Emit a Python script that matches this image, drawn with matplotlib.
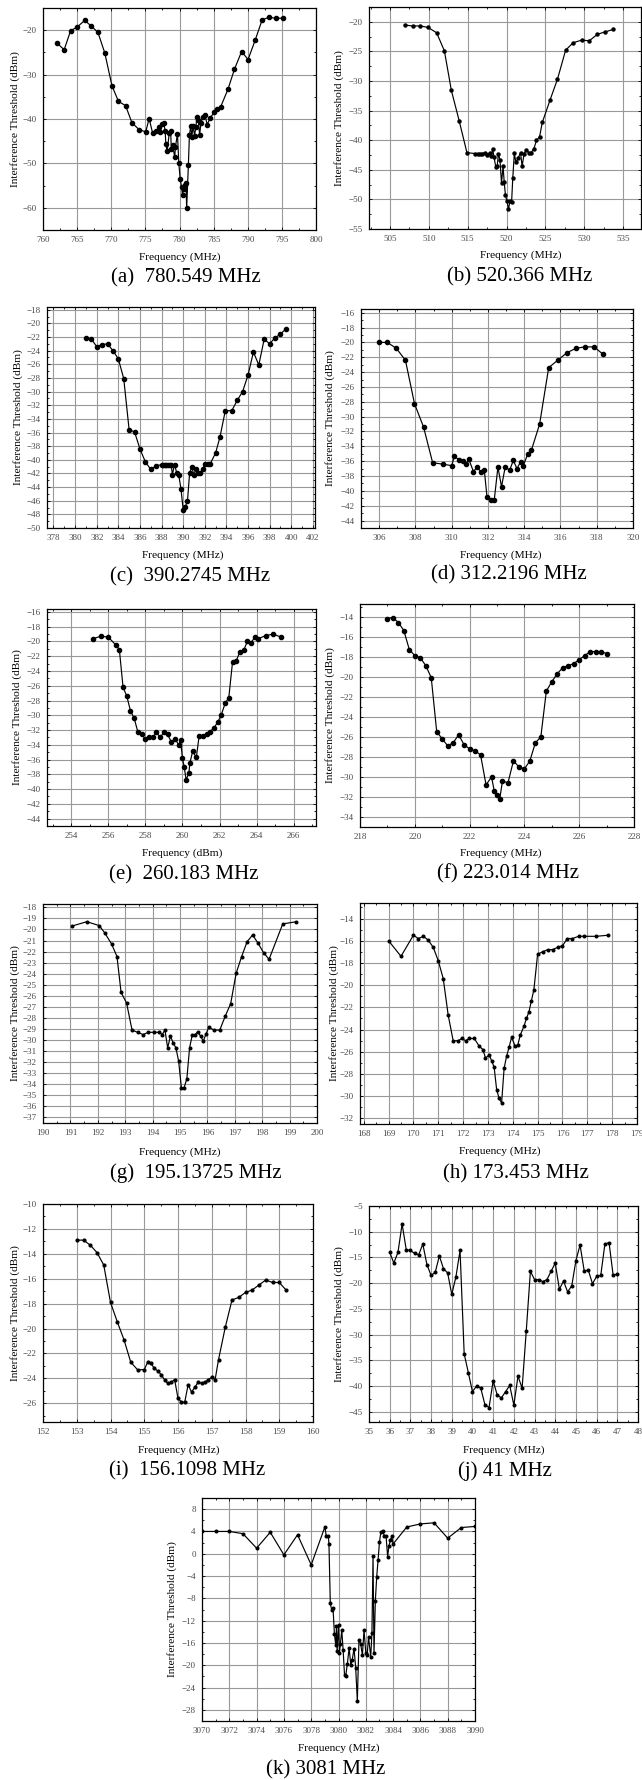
import matplotlib
matplotlib.use("Agg")
import matplotlib.pyplot as plt
from matplotlib.ticker import MultipleLocator

# ---- data ----
a_freq = [762.05, 763.1, 764.05, 765.0, 766.1, 767.1, 768.05, 769.05, 770.1, 771.05, 772.1, 773.05, 774.1, 775.05,
          775.55, 776.05, 776.6, 777.0, 777.2, 777.4, 777.7, 777.9, 778.0, 778.2,
          778.5, 778.7, 778.8, 779.0, 779.3, 779.4, 779.7, 779.9, 780.1, 780.3,
          780.45, 780.6, 780.8, 780.95, 781.05, 781.3, 781.45, 781.65, 781.8, 782.0,
          782.2, 782.4, 782.55, 782.75, 782.95, 783.15, 783.4, 783.75, 784.05, 784.5,
          785.1, 785.5, 786.05, 787.1, 788.05, 789.1, 790.05, 791.1, 792.1, 793.05, 794.1, 795.1]
a_thr = [-22.9, -24.4, -20.1, -19.3, -17.8, -19.1, -20.5, -25.1, -32.5, -36.0, -37.0, -40.9, -42.4, -42.9,
         -39.9, -43.1, -42.8, -41.9, -43.0, -41.1, -41.0, -42.7, -45.7, -47.3,
         -43.1, -42.6, -46.7, -45.9, -48.6, -46.4, -43.3, -50.0, -53.5, -55.3,
         -57.2, -55.7, -54.9, -54.5, -60.1, -50.4, -43.7, -41.5, -44.0, -41.5,
         -43.8, -41.8, -39.5, -40.3, -43.6, -40.8, -39.5, -39.1, -41.3, -39.7,
         -38.5, -37.7, -37.2, -33.3, -28.8, -24.8, -26.6, -22.2, -17.7, -17.1, -17.3, -17.3]

b_freq = [506.9, 507.9, 508.9, 509.9, 511.0, 512.0, 512.9, 513.9, 514.9, 515.9,
          516.3, 516.6, 516.9, 517.2, 517.5, 517.85, 518.05, 518.2, 518.4, 518.6,
          518.8, 518.95, 519.15, 519.35, 519.55, 519.7, 519.85, 520.05, 520.25, 520.45,
          520.65, 520.8, 521.0, 521.2, 521.5, 521.8, 522.0, 522.25, 522.55, 522.85,
          523.15, 523.5, 523.85, 524.25, 524.6, 525.6, 526.55, 527.6, 528.55, 529.65,
          530.65, 531.7, 532.7, 533.7]
b_thr = [-20.55, -20.7, -20.7, -20.95, -21.85, -24.9, -31.6, -36.7, -42.1, -42.25,
         -42.25, -42.25, -42.25, -42.1, -42.5, -42.1, -42.75, -41.45, -42.9, -44.45,
         -44.3, -42.35, -43.3, -47.25, -44.4, -47.1, -49.2, -50.35, -51.6, -50.3,
         -50.45, -46.4, -42.2, -43.75, -43.0, -42.1, -44.4, -42.35, -41.6, -42.1,
         -42.1, -41.5, -40.05, -39.4, -37.0, -33.2, -29.7, -24.8, -23.55, -23.1,
         -23.2, -22.1, -21.7, -21.3]

c_freq = [381.0, 381.5, 382.0, 382.5, 383.0, 383.5, 384.0, 384.5, 385.0, 385.5,
          386.0, 386.5, 387.0, 387.5, 388.0, 388.15, 388.3, 388.45, 388.6, 388.75,
          388.9, 389.0, 389.2, 389.4, 389.6, 389.8, 390.0, 390.2, 390.4, 390.6,
          390.8, 391.0, 391.2, 391.4, 391.6, 391.8, 392.05, 392.3, 392.5, 393.0,
          393.4, 393.9, 394.5, 395.0, 395.5, 396.0, 396.5, 397.0, 397.5, 398.0,
          398.5, 399.0, 399.5]
c_thr = [-22.15, -22.3, -23.4, -23.1, -23.0, -24.0, -25.2, -28.1, -35.6, -35.9,
         -38.4, -40.3, -41.4, -40.9, -40.7, -40.7, -40.7, -40.7, -40.7, -40.7,
         -40.7, -42.2, -40.7, -41.9, -42.3, -44.3, -47.3, -46.9, -46.0, -41.9,
         -41.1, -42.2, -41.3, -41.9, -41.9, -41.3, -40.6, -40.6, -40.6, -39.0,
         -36.7, -32.8, -32.8, -31.3, -30.0, -27.6, -24.2, -26.1, -22.3, -23.0,
         -22.1, -21.6, -20.8]

d_freq = [306.0, 306.45, 306.95, 307.45, 307.95, 308.45, 308.95, 309.5, 310.0, 310.15,
          310.4, 310.6, 310.8, 310.95, 311.2, 311.4, 311.6, 311.8, 311.95, 312.15,
          312.35, 312.55, 312.75, 312.95, 313.2, 313.4, 313.6, 313.8, 313.95, 314.2,
          314.4, 314.85, 315.35, 315.85, 316.35, 316.85, 317.35, 317.85, 318.35]
d_thr = [-20.0, -20.0, -20.8, -22.4, -28.25, -31.4, -36.2, -36.4, -36.6, -35.35,
         -35.8, -35.95, -36.4, -35.75, -37.4, -36.8, -37.4, -37.2, -40.85, -41.2,
         -41.2, -36.8, -39.45, -36.8, -37.2, -35.9, -37.0, -36.1, -36.6, -35.0,
         -34.5, -31.0, -23.4, -22.4, -21.4, -20.8, -20.6, -20.6, -21.6]

e_freq = [255.2, 255.6, 256.0, 256.4, 256.6, 256.8, 257.0, 257.2, 257.4, 257.6,
          257.8, 258.0, 258.2, 258.4, 258.6, 258.8, 259.0, 259.2, 259.4, 259.6,
          259.8, 259.9, 260.0, 260.1, 260.2, 260.35, 260.4, 260.55, 260.75, 260.9,
          261.1, 261.3, 261.5, 261.7, 261.9, 262.1, 262.3, 262.5, 262.7, 262.9,
          263.1, 263.3, 263.5, 263.7, 263.9, 264.1, 264.5, 264.9, 265.3]
e_thr = [-19.6, -19.3, -19.4, -20.45, -21.1, -26.2, -27.4, -29.4, -30.4, -32.3,
         -32.6, -33.2, -33.0, -33.0, -32.3, -33.0, -32.3, -32.6, -33.6, -33.2,
         -34.0, -33.4, -35.8, -37.05, -38.75, -37.8, -36.5, -34.9, -35.7, -32.8,
         -32.8, -32.6, -32.2, -31.7, -30.95, -29.9, -28.4, -27.6, -22.8, -22.6,
         -21.4, -21.2, -20.0, -20.2, -19.4, -19.6, -19.2, -19.0, -19.4]

f_freq = [219.0, 219.2, 219.4, 219.6, 219.8, 220.0, 220.2, 220.4, 220.6, 220.8,
          221.0, 221.2, 221.4, 221.6, 221.8, 222.0, 222.2, 222.4, 222.6, 222.8,
          222.9, 223.0, 223.1, 223.2, 223.4, 223.6, 223.8, 224.0, 224.2, 224.4,
          224.6, 224.8, 225.0, 225.2, 225.4, 225.6, 225.8, 226.0, 226.2, 226.4,
          226.6, 226.8, 227.0]
f_thr = [-14.2, -14.1, -14.6, -15.4, -17.3, -17.9, -18.1, -18.9, -20.1, -25.5,
         -26.2, -26.9, -26.6, -25.8, -26.8, -27.2, -27.4, -27.8, -30.8, -30.0,
         -31.4, -31.8, -32.2, -30.4, -30.6, -28.4, -29.0, -29.2, -28.4, -26.6,
         -26.0, -21.45, -20.5, -19.7, -19.1, -18.9, -18.7, -18.3, -17.9, -17.5,
         -17.5, -17.5, -17.7]

g_freq = [191.05, 191.6, 192.05, 192.25, 192.5, 192.7, 192.85, 193.05, 193.25, 193.45,
          193.65, 193.85, 194.05, 194.25, 194.35, 194.45, 194.55, 194.65, 194.75, 194.85,
          194.95, 195.05, 195.15, 195.25, 195.35, 195.45, 195.55, 195.65, 195.75, 195.85,
          195.95, 196.05, 196.25, 196.45, 196.65, 196.85, 197.05, 197.25, 197.45, 197.65,
          197.85, 198.05, 198.25, 198.75, 199.25]
g_thr = [-19.7, -19.3, -19.65, -20.3, -21.3, -22.45, -25.7, -26.65, -29.1, -29.3,
         -29.5, -29.3, -29.3, -29.3, -29.5, -29.1, -30.7, -29.65, -30.25, -30.7,
         -31.9, -34.3, -34.3, -33.5, -30.7, -29.5, -29.5, -29.25, -29.65, -30.1,
         -29.45, -28.85, -29.1, -29.1, -27.85, -26.7, -23.95, -22.45, -21.1, -20.5,
         -21.25, -22.1, -22.7, -19.5, -19.3]

h_freq = [169.0, 169.5, 170.0, 170.2, 170.4, 170.6, 170.8, 171.0, 171.2, 171.4,
          171.6, 171.8, 171.95, 172.1, 172.25, 172.45, 172.65, 172.8, 172.9, 173.05,
          173.15, 173.25, 173.35, 173.45, 173.55, 173.65, 173.75, 173.85, 173.95, 174.1,
          174.2, 174.3, 174.45, 174.55, 174.65, 174.75, 174.85, 175.0, 175.2, 175.4,
          175.6, 175.8, 176.0, 176.2, 176.4, 176.65, 176.85, 177.35, 177.85]
h_thr = [-16.0, -17.4, -15.5, -15.8, -15.6, -15.95, -16.6, -17.8, -19.4, -22.7,
         -25.0, -25.0, -24.8, -25.0, -24.8, -24.8, -25.5, -25.8, -26.55, -26.3,
         -26.8, -27.4, -29.4, -30.2, -30.6, -27.5, -26.4, -25.6, -24.7, -25.5,
         -25.4, -24.5, -23.7, -23.0, -22.4, -21.4, -20.4, -17.2, -17.0, -16.8,
         -16.8, -16.6, -16.45, -15.8, -15.8, -15.6, -15.6, -15.6, -15.5]

i_freq = [153.0, 153.2, 153.4, 153.6, 153.8, 154.0, 154.2, 154.4, 154.6, 154.8,
          155.0, 155.1, 155.2, 155.3, 155.4, 155.5, 155.6, 155.7, 155.8, 155.9,
          156.0, 156.1, 156.2, 156.3, 156.4, 156.5, 156.6, 156.7, 156.8, 156.9,
          157.0, 157.1, 157.2, 157.4, 157.6, 157.8, 158.0, 158.2, 158.4, 158.6,
          158.8, 159.0, 159.2]
i_thr = [-12.9, -12.9, -13.3, -13.9, -14.9, -17.9, -19.45, -20.9, -22.7, -23.3,
         -23.3, -22.7, -22.8, -23.2, -23.4, -23.7, -24.1, -24.4, -24.3, -24.1,
         -25.6, -25.9, -25.9, -24.5, -25.1, -24.7, -24.3, -24.4, -24.3, -24.1,
         -23.9, -24.1, -22.5, -19.9, -17.7, -17.5, -17.1, -16.9, -16.5, -16.1,
         -16.3, -16.3, -16.9]

j_freq = [36.0, 36.2, 36.4, 36.6, 36.8, 37.0, 37.2, 37.4, 37.6, 37.8,
          38.0, 38.2, 38.4, 38.6, 38.8, 39.0, 39.2, 39.4, 39.6, 39.8,
          40.0, 40.2, 40.4, 40.6, 40.8, 41.0, 41.2, 41.4, 41.6, 41.8,
          42.0, 42.2, 42.4, 42.6, 42.8, 43.0, 43.2, 43.4, 43.6, 43.8,
          44.0, 44.2, 44.4, 44.6, 44.8, 45.0, 45.2, 45.4, 45.6, 45.8,
          46.0, 46.2, 46.4, 46.6, 46.8, 47.0]
j_thr = [-14.0, -16.1, -14.0, -8.5, -13.5, -13.65, -14.2, -14.5, -12.4, -16.4,
         -18.5, -17.9, -14.7, -17.2, -18.0, -22.2, -18.8, -13.65, -33.75, -37.4,
         -41.1, -40.0, -40.4, -43.6, -44.2, -39.0, -41.8, -42.3, -41.1, -39.9,
         -43.7, -38.1, -40.4, -29.3, -17.7, -19.3, -19.3, -19.7, -19.3, -17.7,
         -16.1, -21.2, -19.6, -21.7, -20.5, -15.6, -12.6, -17.6, -17.5, -20.1,
         -18.7, -18.5, -12.4, -12.1, -18.5, -18.2]

k_freq = [3070.0, 3071.0, 3072.0, 3073.0, 3074.0, 3075.0, 3076.0, 3077.0, 3078.0, 3079.0,
          3079.1, 3079.25, 3079.3, 3079.4, 3079.5, 3079.6, 3079.7, 3079.8, 3079.85, 3079.9,
          3080.0, 3080.07, 3080.14, 3080.24, 3080.34, 3080.44, 3080.53, 3080.65, 3080.78, 3080.9,
          3081.0, 3081.14, 3081.26, 3081.38, 3081.5, 3081.62, 3081.75, 3081.87,
          3082.0, 3082.1, 3082.2, 3082.36, 3082.45, 3082.53, 3082.6, 3082.7, 3082.8, 3082.9,
          3083.0, 3083.1, 3083.25, 3083.35, 3083.48, 3083.6, 3083.7, 3083.8, 3083.9,
          3084.0, 3085.0, 3086.0, 3087.0, 3088.0, 3089.0, 3090.0]
k_thr = [4.0, 4.0, 4.0, 3.6, 1.0, 3.85, -0.2, 3.4, -2.0, 4.8,
         3.25, 3.2, 1.8, -8.9, -10.1, -9.8, -14.4, -16.4, -13.0, -17.5,
         -12.7, -17.8, -16.1, -13.7, -17.3, -21.7, -21.9, -19.7, -16.9, -20.0,
         -19.1, -17.0, -20.5, -26.4, -15.5, -16.1, -18.2, -13.7,
         -17.8, -18.2, -14.9, -18.5, -14.2, -0.4, -17.8, -8.4, -4.1, -1.1,
         2.05, 3.85, 4.15, 3.25, 3.25, -0.5, 1.45, 2.4, 3.1,
         1.75, 4.8, 5.35, 5.55, 2.8, 4.7, 4.9]

W, H = 642, 1780
plt.rcParams["font.family"] = ["Liberation Serif", "DejaVu Serif"]

fig = plt.figure(figsize=(W / 100, H / 100), dpi=100)

YLAB = "Interference Threshold (dBm)"


def panel(freq, thr, box, xlim, ylim, steps, xlab, xlab_xy, ylab_x, caption, cap_xy, ms):
    l, t, r, b = box
    ax = fig.add_axes([l / W, 1 - b / H, (r - l) / W, (b - t) / H])
    ax.plot(freq, thr, color="black", lw=0.85, marker="o", ms=ms, zorder=3)
    ax.set_xlim(*xlim)
    ax.set_ylim(*ylim)
    xs, xm, ys, ym = steps
    ax.xaxis.set_major_locator(MultipleLocator(xs))
    ax.xaxis.set_minor_locator(MultipleLocator(xm))
    ax.yaxis.set_major_locator(MultipleLocator(ys))
    if ym:
        ax.yaxis.set_minor_locator(MultipleLocator(ym))
    ax.grid(True, which="major", color="#999999", lw=0.8)
    ax.set_axisbelow(True)
    ax.tick_params(which="both", direction="in", top=True, right=True,
                   labelsize=6.5, labelcolor="#4a4a4a", width=0.6)
    ax.tick_params(which="major", length=2.2)
    ax.tick_params(which="minor", length=1.3)
    ax.tick_params(axis="x", pad=4.5)
    ax.tick_params(axis="y", pad=4.5)
    for s in ax.spines.values():
        s.set_linewidth(0.9)

    ax.set_xlabel(xlab, fontsize=8.2, va="center")
    ax.xaxis.set_label_coords(xlab_xy[0] / W, 1 - xlab_xy[1] / H, transform=fig.transFigure)
    ax.set_ylabel(YLAB, fontsize=8.2, va="center")
    ax.yaxis.set_label_coords(ylab_x / W, 1 - (t + b) / 2 / H, transform=fig.transFigure)
    fig.text(cap_xy[0] / W, 1 - cap_xy[1] / H, caption, ha="center", va="center", fontsize=15)
    return ax


panel(a_freq, a_thr, (43, 8, 316, 230), (760, 800), (-65, -15), (5, 2.5, 10, 5),
      "Frequency (MHz)", (180, 257), 15, "(a)  780.549 MHz", (186, 278), 3.0)
panel(b_freq, b_thr, (369, 7, 641, 229), (502.3, 537.3), (-55, -17.5), (5, 2.5, 5, 2.5),
      "Frequency (MHz)", (521, 255), 339, "(b) 520.366 MHz", (520, 277), 2.2)
panel(c_freq, c_thr, (47, 307, 315, 528), (377.4, 402.2), (-50, -17.6), (2, 1, 2, 1),
      "Frequency (MHz)", (183, 555), 18, "(c)  390.2745 MHz", (190, 577), 3.0)
panel(d_freq, d_thr, (361, 309, 633, 528), (305, 320), (-45, -15.5), (2, 1, 2, 1),
      "Frequency (MHz)", (501, 555), 330, "(d) 312.2196 MHz", (509, 575), 3.0)
panel(e_freq, e_thr, (47, 609, 316, 826), (252.7, 267.2), (-45, -15.6), (2, 1, 2, 1),
      "Frequency (dBm)", (182, 853), 17, "(e)  260.183 MHz", (184, 875), 3.0)
panel(f_freq, f_thr, (360, 604, 634, 827), (218, 228), (-35, -12.75), (2, 1, 2, 1),
      "Frequency (MHz)", (501, 853), 330, "(f) 223.014 MHz", (508, 874), 3.0)
panel(g_freq, g_thr, (43, 904, 317, 1123), (190, 200), (-37.5, -17.7), (1, 0.5, 1, None),
      "Frequency (MHz)", (180, 1152), 15, "(g)  195.13725 MHz", (196, 1173), 1.9)
panel(h_freq, h_thr, (360, 903, 637, 1124), (167.85, 179), (-32.5, -12.6), (1, 0.5, 2, 1),
      "Frequency (MHz)", (500, 1151), 334, "(h) 173.453 MHz", (516, 1174), 1.9)
panel(i_freq, i_thr, (43, 1204, 313, 1422), (152, 160), (-27.5, -10), (1, 0.5, 2, 1),
      "Frequency (MHz)", (179, 1450), 15, "(i)  156.1098 MHz", (187, 1471), 2.0)
panel(j_freq, j_thr, (369, 1206, 638, 1422), (35, 48), (-47, -5), (1, 0.5, 5, 2.5),
      "Frequency (MHz)", (504, 1450), 339, "(j) 41 MHz", (505, 1471), 1.9)
panel(k_freq, k_thr, (202, 1498, 475, 1721), (3070, 3090), (-30, 10), (2, 1, 4, 2),
      "Frequency (MHz)", (339, 1748), 172, "(k) 3081 MHz", (326, 1770), 1.9)

fig.savefig("out.png", dpi=100)
